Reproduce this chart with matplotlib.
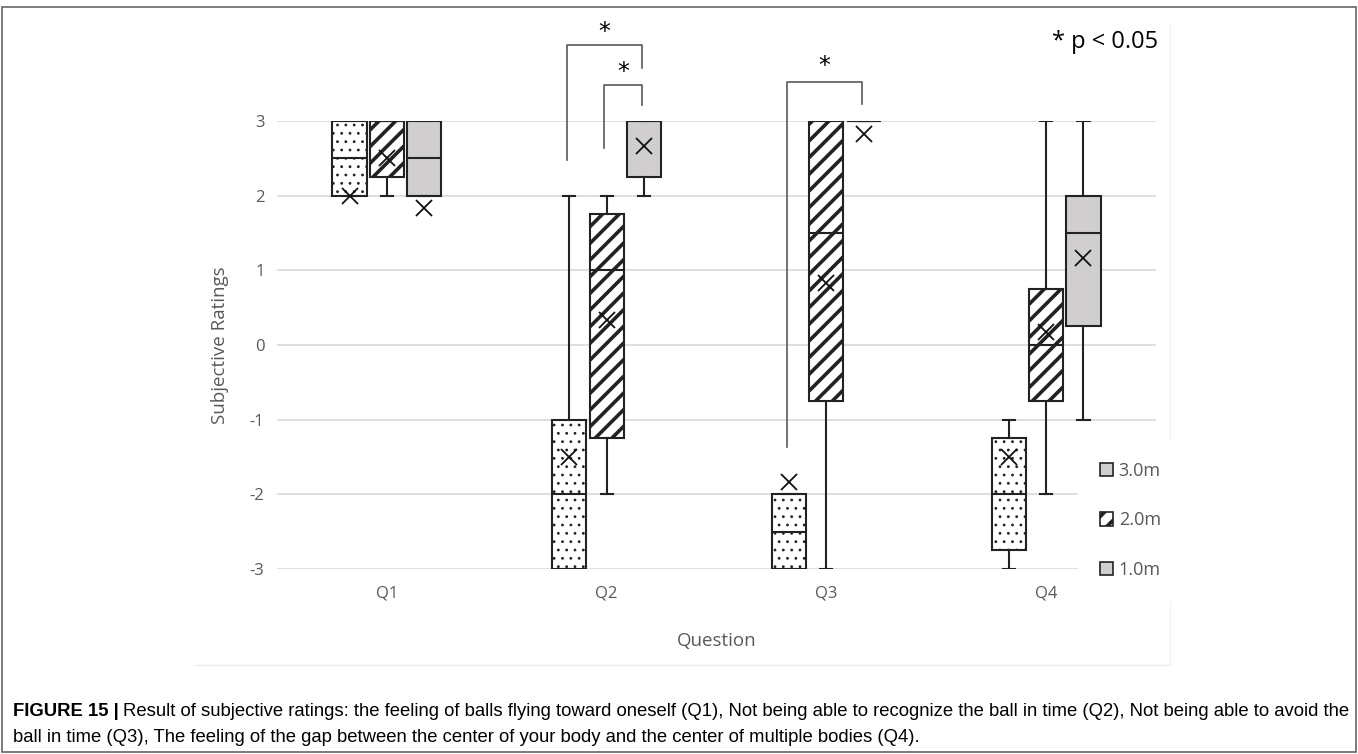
import matplotlib
matplotlib.use("Agg")
import matplotlib.pyplot as plt
from matplotlib.patches import Patch, Rectangle
from matplotlib.lines import Line2D
import numpy as np

questions = ["Q1", "Q2", "Q3", "Q4"]
distances = ["1.0m", "2.0m", "3.0m"]

# box stats per distance, one value per question
q1_vals = {"1.0m": [2.0, -3.0, -3.0, -2.75], "2.0m": [2.25, -1.25, -0.75, -0.75], "3.0m": [2.0, 2.25, 3.0, 0.25]}
med_vals = {"1.0m": [2.5, -2.0, -2.5, -2.0], "2.0m": [3.0, 1.0, 1.5, 0.0], "3.0m": [2.5, 3.0, 3.0, 1.5]}
q3_vals = {"1.0m": [3.0, -1.0, -2.0, -1.25], "2.0m": [3.0, 1.75, 3.0, 0.75], "3.0m": [3.0, 3.0, 3.0, 2.0]}
lo_vals = {"1.0m": [2.0, -3.0, -3.0, -3.0], "2.0m": [2.0, -2.0, -3.0, -2.0], "3.0m": [2.0, 2.0, 3.0, -1.0]}
hi_vals = {"1.0m": [3.0, 2.0, -2.0, -1.0], "2.0m": [3.0, 2.0, 3.0, 3.0], "3.0m": [3.0, 3.0, 3.0, 3.0]}
mean_vals = {"1.0m": [2.0, -1.5, -1.83, -1.5], "2.0m": [2.5, 0.33, 0.83, 0.17], "3.0m": [1.83, 2.67, 2.83, 1.17]}

# significance brackets: (question, left distance, right distance, top, left end, right end, star y)
brackets = [
    (1, "1.0m", "3.0m", 4.02, 2.48, 3.71, 4.19),
    (1, "2.0m", "3.0m", 3.48, 2.64, 3.21, 3.66),
    (2, "1.0m", "3.0m", 3.52, -1.37, 3.23, 3.74),
]

offsets = {"1.0m": -0.17, "2.0m": 0.0, "3.0m": 0.17}
hatches = {"1.0m": "..", "2.0m": "//", "3.0m": None}
faces = {"1.0m": "white", "2.0m": "white", "3.0m": "#d0cece"}

W, H = 1358, 754
fig = plt.figure(figsize=(W / 100, H / 100), dpi=100)
plt.rcParams["hatch.color"] = "black"

ax = fig.add_axes([277 / W, 1 - 569 / H, (1156 - 277) / W, (569 - 121) / H])
ax.set_xlim(-0.5, 3.5)
ax.set_ylim(-3, 3)

tick_font = "Open Sans"
grey_txt = "#595959"

for d in distances:
    stats = []
    for i in range(len(questions)):
        stats.append(dict(med=med_vals[d][i], q1=q1_vals[d][i], q3=q3_vals[d][i],
                          whislo=lo_vals[d][i], whishi=hi_vals[d][i],
                          mean=mean_vals[d][i], fliers=[]))
    pos = np.arange(len(questions)) + offsets[d]
    bp = ax.bxp(stats, positions=pos, widths=0.155, patch_artist=True,
                showmeans=True, showfliers=False, capwidths=0.055,
                boxprops=dict(facecolor=faces[d], edgecolor="#222222", linewidth=1.5),
                medianprops=dict(color="#222222", linewidth=1.5),
                whiskerprops=dict(color="#222222", linewidth=1.5),
                capprops=dict(color="#222222", linewidth=1.5),
                meanprops=dict(marker="x", markersize=11.5, markeredgecolor="#111111",
                               markeredgewidth=1.3, markerfacecolor="none"))
    for box in bp["boxes"]:
        box.set_zorder(3)
        if hatches[d]:
            box.set_hatch(hatches[d])
            try:
                box.set_hatch_linewidth(2.6 if d == "2.0m" else 0.8)
            except AttributeError:
                pass
    for k in ("whiskers", "caps", "medians", "means"):
        for a in bp[k]:
            a.set_zorder(4)

for qi, dl, dr, top, lend, rend, sy in brackets:
    xl = qi + offsets[dl] - 0.01
    xr = qi + offsets[dr] - 0.01
    ax.plot([xl, xl, xr, xr], [lend, top, top, rend], color="#595959",
            linewidth=1.2, clip_on=False, zorder=5)
    ax.text((xl + xr) / 2, sy, "*", ha="center", va="center", fontsize=17,
            family="DejaVu Sans", clip_on=False)

ax.set_yticks(np.arange(-3, 4))
ax.set_yticklabels([str(v) for v in range(-3, 4)], family=tick_font, fontsize=12, color=grey_txt)
ax.set_xticks(np.arange(len(questions)))
ax.set_xticklabels(questions, family=tick_font, fontsize=12, color=grey_txt)
ax.tick_params(axis="both", length=0)
ax.tick_params(axis="y", pad=9)
ax.tick_params(axis="x", pad=12)
ax.grid(axis="y", color="#d9d9d9", linewidth=1.2, zorder=0)
ax.set_axisbelow(True)
for s in ax.spines.values():
    s.set_visible(False)

ax.set_ylabel("Subjective Ratings", family=tick_font, fontsize=13.5, color=grey_txt)
ax.yaxis.set_label_coords((229 - 277) / 879, 0.5)
ax.set_xlabel("Question", family=tick_font, fontsize=13.5, color=grey_txt)
ax.xaxis.set_label_coords(0.5, -(632 - 569) / 448)

fig.text(1052 / W, 1 - 42 / H, "* p < 0.05", family=tick_font, fontsize=17,
         ha="left", va="center", color="black")

handles = []
for d in ["3.0m", "2.0m", "1.0m"]:
    handles.append(Patch(facecolor=faces["3.0m" if d == "1.0m" else d], edgecolor="#222222",
                         hatch=hatches[d] if d == "2.0m" else None, linewidth=1.2, label=d))
leg = fig.legend(handles=handles, loc="upper left", bbox_to_anchor=(1078 / W, 1 - 440 / H),
                 frameon=True, facecolor="white", edgecolor="none", framealpha=1,
                 prop=dict(family=tick_font, size=13), labelcolor=grey_txt,
                 handlelength=0.75, handleheight=0.75, handletextpad=0.3,
                 labelspacing=1.75, borderpad=1.2, borderaxespad=0)
for p in leg.get_patches():
    if p.get_hatch():
        try:
            p.set_hatch_linewidth(2.6)
        except AttributeError:
            pass

# chart area and outer border
fig.add_artist(Line2D([195 / W, 1170 / W], [1 - 665 / H, 1 - 665 / H], color="#ececec", linewidth=1))
fig.add_artist(Line2D([1170 / W, 1170 / W], [1 - 23 / H, 1 - 665 / H], color="#f2f2f2", linewidth=1))
fig.add_artist(Rectangle((2 / W, 2 / H), 1354 / W, 745 / H, fill=False,
                         edgecolor="#666666", linewidth=1.2))

cap_size = 13.3
cap_y1 = 1 - 712 / H
cap_y2 = 1 - 737 / H
t = fig.text(13 / W, cap_y1, "FIGURE 15 |", family="Liberation Sans", fontsize=cap_size,
             fontweight="bold", va="center")
r = fig.canvas.get_renderer()
bb = t.get_window_extent(renderer=r)
fig.text(bb.x1 / W + 4 / W, cap_y1,
         "Result of subjective ratings: the feeling of balls flying toward oneself (Q1), Not being able to "
         "recognize the ball in time (Q2), Not being able to avoid the",
         family="Liberation Sans", fontsize=cap_size, va="center")
fig.text(13 / W, cap_y2,
         "ball in time (Q3), The feeling of the gap between the center of your body and the center of "
         "multiple bodies (Q4).", family="Liberation Sans", fontsize=cap_size, va="center")

fig.savefig("out.png", dpi=100)
